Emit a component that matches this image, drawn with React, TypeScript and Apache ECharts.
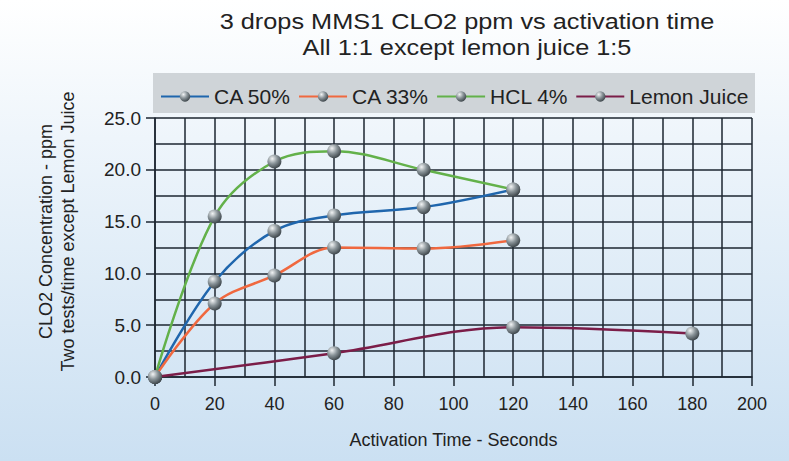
import React, { useEffect, useRef } from "react";
import * as echarts from "echarts";

const titleLines = ["3 drops MMS1 CLO2 ppm vs activation time", "All 1:1 except lemon juice 1:5"];
const seriesNames = ["CA 50%", "CA 33%", "HCL 4%", "Lemon Juice"];
const ca50: [number, number][] = [[0, 0], [20, 9.2], [40, 14.1], [60, 15.6], [90, 16.4], [120, 18.1]];
const ca33: [number, number][] = [[0, 0], [20, 7.1], [40, 9.8], [60, 12.5], [90, 12.4], [120, 13.2]];
const hcl4: [number, number][] = [[0, 0], [20, 15.5], [40, 20.8], [60, 21.8], [90, 20.0], [120, 18.1]];
const lemon: [number, number][] = [[0, 0], [60, 2.3], [120, 4.8], [180, 4.2]];
const colors = ["#1f66ad", "#f0683f", "#63b14a", "#7b1d48"];

export default function App() {
  const ref = useRef<HTMLDivElement>(null);
  useEffect(() => {
    document.body.style.margin = "0";
    const chart = echarts.init(ref.current!, null, { renderer: "svg" });
    const sphere = new echarts.graphic.RadialGradient(0.35, 0.3, 0.8, [
      { offset: 0, color: "#f2f4f5" },
      { offset: 0.45, color: "#8a9499" },
      { offset: 1, color: "#2e363b" },
    ]);
    const datas = [ca50, ca33, hcl4, lemon];
    const gridColor = "#1c2630";
    const font = "Liberation Sans, Arial, sans-serif";
    chart.setOption({
      animation: false,
      backgroundColor: new echarts.graphic.LinearGradient(0, 0, 0, 1, [
        { offset: 0, color: "#ffffff" },
        { offset: 0.3, color: "#eef5fb" },
        { offset: 1, color: "#cbe0f2" },
      ]),
      textStyle: { fontFamily: font },
      graphic: [
        {
          type: "rect",
          shape: { x: 153, y: 73, width: 602, height: 40 },
          style: { fill: "#cfd4d8" },
          z: -1,
        },
        ...titleLines.map((t, i) => ({
          type: "text",
          x: 467,
          y: 22 + i * 26,
          scaleX: 1.15,
          style: {
            text: t,
            fontSize: 22,
            fontFamily: font,
            fill: "#222",
            textAlign: "center",
            textVerticalAlign: "middle",
          },
        })),
      ],
      legend: {
        top: 81,
        left: 155,
        itemWidth: 48,
        itemHeight: 13,
        itemGap: 7,
        data: seriesNames,
        textStyle: { fontSize: 21, color: "#222" },
      },
      grid: { left: 155, right: 37, top: 118, bottom: 84 },
      xAxis: {
        type: "value",
        min: 0,
        max: 200,
        interval: 20,
        name: "Activation Time - Seconds",
        nameLocation: "middle",
        nameGap: 54,
        nameTextStyle: { fontSize: 18, color: "#222" },
        axisLine: { show: true, onZero: false, lineStyle: { color: gridColor, width: 1.5 } },
        axisTick: { show: true, length: 9, lineStyle: { color: gridColor, width: 1.5 } },
        axisLabel: { fontSize: 18, color: "#222", margin: 18 },
        splitLine: { show: true, lineStyle: { color: gridColor, width: 1.5 } },
        minorTick: { show: false, splitNumber: 2 },
        minorSplitLine: { show: true, lineStyle: { color: gridColor, width: 1.5 } },
      },
      yAxis: {
        type: "value",
        min: 0,
        max: 25,
        interval: 5,
        name: "CLO2 Concentration - ppm\nTwo tests/time except Lemon Juice",
        nameLocation: "middle",
        nameGap: 76,
        nameTextStyle: { fontSize: 18, color: "#222", lineHeight: 22, padding: [0, 0, 0, 32] },
        axisLine: { show: true, lineStyle: { color: gridColor, width: 1.5 } },
        axisTick: { show: true, length: 9, lineStyle: { color: gridColor, width: 1.5 } },
        axisLabel: { fontSize: 19, color: "#222", margin: 14, formatter: (v: number) => v.toFixed(1) },
        splitLine: { show: true, lineStyle: { color: gridColor, width: 1.5 } },
        minorTick: { show: false, splitNumber: 2 },
        minorSplitLine: { show: true, lineStyle: { color: gridColor, width: 1.5 } },
      },
      series: seriesNames.map((name, i) => ({
        name,
        type: "line",
        data: datas[i],
        smooth: 0.35,
        symbol: "circle",
        symbolSize: 14,
        lineStyle: { color: colors[i], width: 2.5 },
        itemStyle: { color: sphere, borderWidth: 0 },
        color: colors[i],
        z: 3 + i,
      })),
    });
    return () => chart.dispose();
  }, []);
  return <div ref={ref} style={{ width: 789, height: 461 }} />;
}
